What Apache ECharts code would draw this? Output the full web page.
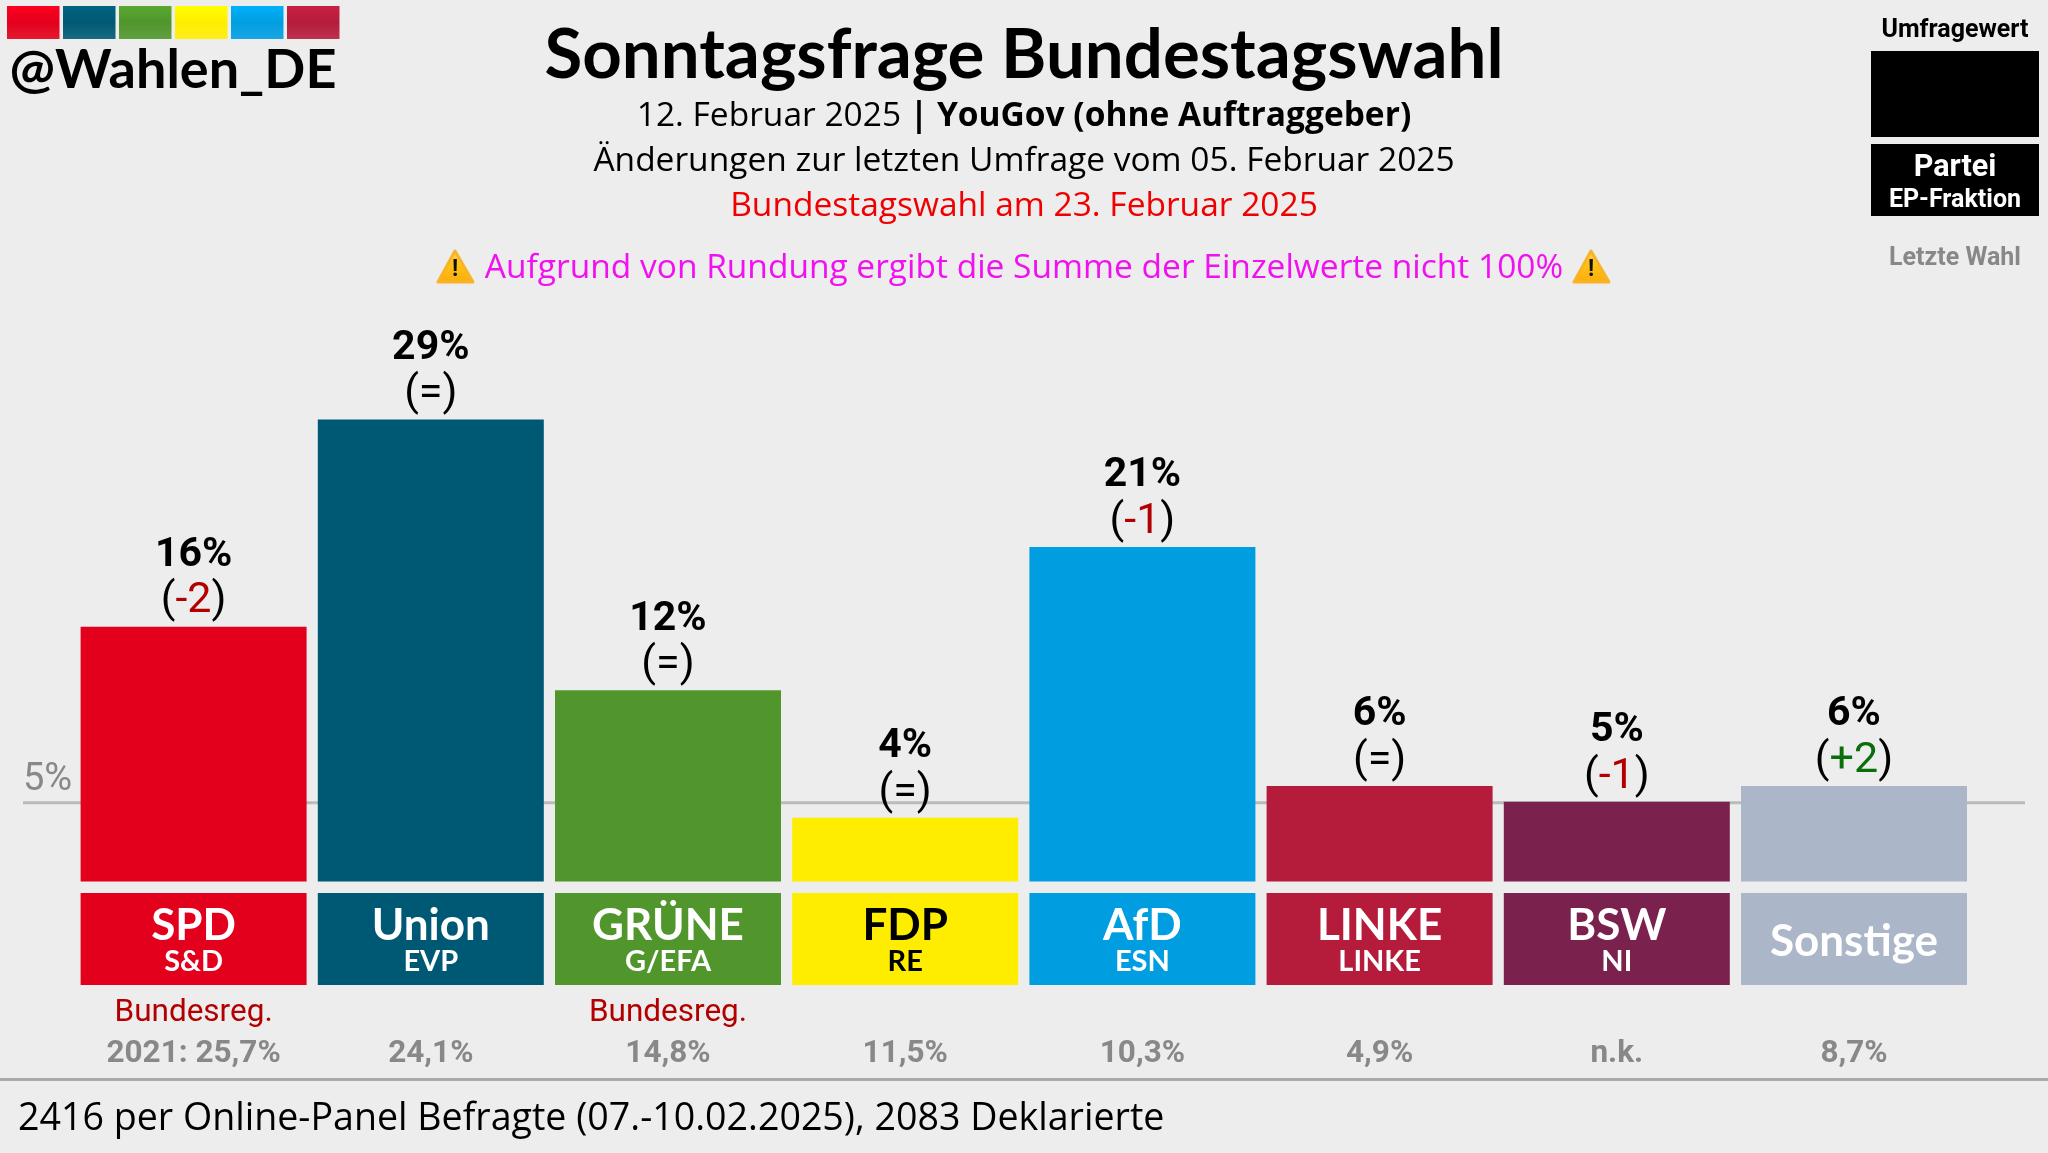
<!DOCTYPE html>
<html lang="de">
<head>
<meta charset="utf-8">
<title>Sonntagsfrage Bundestagswahl</title>
<style>
  html, body { margin: 0; height: 100%; background: #ededed; }
  #chart { width: 2048px; height: 1153px; }
</style>
<script src="https://cdn.jsdelivr.net/npm/echarts@6/dist/echarts.min.js"></script>
</head>
<body>
<div id="chart"></div>
<script>
(() => {
  const parties = ["SPD", "Union", "GRÜNE", "FDP", "AfD", "LINKE", "BSW", "Sonstige"];
  const factions = ["S&D", "EVP", "G/EFA", "RE", "ESN", "LINKE", "NI", ""];
  const pollValues = [16, 29, 12, 4, 21, 6, 5, 6];
  const changes = ["-2", "=", "=", "=", "-1", "=", "-1", "+2"];
  const lastElection = ["2021: 25,7%", "24,1%", "14,8%", "11,5%", "10,3%", "4,9%", "n.k.", "8,7%"];
  const governing = [true, false, true, false, false, false, false, false];
  const partyColors = ["#e3001c", "#005974", "#50962c", "#ffed00", "#009ee0", "#b51c3c", "#7a214e", "#abb6c8"];
  const logoColors = partyColors.slice(0, 6);
  const thresholdLine = [[0, 5], [1, 5]];

  const chart = echarts.init(document.getElementById("chart"), null, { renderer: "canvas" });

  const OPEN = '"Open Sans"';
  const ROBOTO = "Roboto";
  const BRAND = "Lato";

  function text(x, y, content, font, fill, rich) {
    return {
      type: "text",
      x,
      y,
      style: { text: content, font, fill, align: "center", verticalAlign: "middle", rich },
    };
  }

  function warningIcon(x) {
    return {
      type: "group",
      x,
      y: 249,
      children: [
        {
          type: "polygon",
          shape: { points: [[19, 2], [37, 33], [2, 33]] },
          style: {
            fill: new echarts.graphic.LinearGradient(0, 0, 0, 1, [
              { offset: 0, color: "#f8dca0" },
              { offset: 0.35, color: "#ffc61a" },
              { offset: 1, color: "#fbab0c" },
            ]),
            stroke: "#f8b424",
            lineWidth: 3,
            lineJoin: "round",
          },
        },
        text(19, 21, "!", `bold 23px ${ROBOTO}`, "#111"),
      ],
    };
  }

  const logoSquares = logoColors.map((color, i) => ({
    type: "rect",
    shape: { x: 7 + i * 56, y: 6, width: 52.5, height: 33 },
    style: {
      fill: new echarts.graphic.LinearGradient(0, 0, 0, 1, [
        { offset: 0, color: echarts.color.lift(color, -0.12) },
        { offset: 0.5, color },
        { offset: 1, color: echarts.color.lift(color, 0.1) },
      ]),
    },
  }));

  chart.setOption({
    animation: false,
    backgroundColor: "#ededed",
    title: {
      text: "Sonntagsfrage Bundestagswahl",
      left: "center",
      top: 16,
      textStyle: { fontFamily: BRAND, fontWeight: "bold", fontSize: 69, color: "#000" },
    },
    grid: [
      { left: 75, width: 1897.6, top: 324, height: 557.5 },
      { left: 23, width: 2002, top: 325, height: 557.5 },
      { left: 75, width: 1897.6, top: 893, height: 92 },
    ],
    xAxis: [
      { type: "category", gridIndex: 0, data: parties, show: false },
      { type: "value", gridIndex: 1, min: 0, max: 1, show: false },
      {
        type: "category",
        gridIndex: 2,
        data: parties,
        axisLine: { show: false },
        axisTick: { show: false },
        axisLabel: {
          interval: 0,
          margin: 8,
          formatter: (_value, i) =>
            `{gov|${governing[i] ? "Bundesreg." : " "}}\n{last|${lastElection[i]}}`,
          rich: {
            gov: { fontFamily: ROBOTO, fontSize: 31.5, lineHeight: 41, color: "#b20000" },
            last: { fontFamily: ROBOTO, fontWeight: "bold", fontSize: 31.5, lineHeight: 41, color: "#888888" },
          },
        },
      },
    ],
    yAxis: [
      { type: "value", gridIndex: 0, min: 0, max: 35, show: false },
      { type: "value", gridIndex: 1, min: 0, max: 35, show: false },
      { type: "value", gridIndex: 2, min: 0, max: 1, show: false },
    ],
    series: [
      {
        name: "5%-Hürde",
        type: "line",
        xAxisIndex: 1,
        yAxisIndex: 1,
        z: 1,
        silent: true,
        symbol: "circle",
        symbolSize: 0,
        lineStyle: { color: "#bbbbbb", width: 3 },
        data: thresholdLine.map((point, i) => ({
          value: point,
          label: {
            show: i === 0,
            formatter: "5%",
            position: "right",
            offset: [-5, -22],
            fontFamily: ROBOTO,
            fontSize: 38,
            color: "#888888",
          },
        })),
      },
      {
        name: "Umfragewert",
        type: "bar",
        xAxisIndex: 0,
        yAxisIndex: 0,
        z: 2,
        barWidth: 226,
        data: pollValues.map((value, i) => ({
          value,
          itemStyle: { color: partyColors[i] },
          label: {
            formatter: () => {
              const c = changes[i];
              const style = c === "=" ? "same" : c[0] === "+" ? "up" : "down";
              return `{val|${value}%}\n{par|(}{${style}|${c}}{par|)}`;
            },
          },
        })),
        label: {
          show: true,
          position: "top",
          distance: 2,
          rich: {
            val: { fontFamily: ROBOTO, fontWeight: "bold", fontSize: 41, lineHeight: 46, color: "#000" },
            par: { fontFamily: ROBOTO, fontSize: 43, lineHeight: 46, color: "#000" },
            same: { fontFamily: ROBOTO, fontSize: 43, lineHeight: 46, color: "#000" },
            up: { fontFamily: ROBOTO, fontSize: 43, lineHeight: 46, color: "#0a6e0a" },
            down: { fontFamily: ROBOTO, fontSize: 43, lineHeight: 46, color: "#b20000" },
          },
        },
      },
      {
        name: "Partei",
        type: "bar",
        xAxisIndex: 2,
        yAxisIndex: 2,
        barWidth: 226,
        data: parties.map((party, i) => ({
          value: 1,
          itemStyle: { color: partyColors[i] },
          label: {
            color: party === "FDP" ? "#000" : "#fff",
            formatter: factions[i] ? `{name|${party}}\n{frak|${factions[i]}}` : `{name|${party}}`,
            rich: {
              name: {
                fontFamily: BRAND,
                fontWeight: "bold",
                fontSize: 44,
                lineHeight: 40,
                color: party === "FDP" ? "#000" : "#fff",
              },
              frak: {
                fontFamily: BRAND,
                fontWeight: "bold",
                fontSize: 29,
                lineHeight: 32,
                color: party === "FDP" ? "#000" : "#fff",
              },
            },
          },
        })),
        label: { show: true, position: "inside", offset: [0, 2.5] },
      },
    ],
    graphic: [
      ...logoSquares,
      text(173, 71, "@Wahlen_DE", `bold 54px ${BRAND}`, "#000"),
      text(1024, 116, "{a|12. Februar 2025 }{b|| YouGov (ohne Auftraggeber)}", `33.5px ${OPEN}`, "#000", {
        a: { font: `33.5px ${OPEN}`, fill: "#000" },
        b: { font: `bold 33.5px ${OPEN}`, fill: "#000" },
      }),
      text(1024, 161.5, "Änderungen zur letzten Umfrage vom 05. Februar 2025", `33.5px ${OPEN}`, "#000"),
      text(1024, 206.5, "Bundestagswahl am 23. Februar 2025", `33.5px ${OPEN}`, "#f00000"),
      text(1024, 268.5, "Aufgrund von Rundung ergibt die Summe der Einzelwerte nicht 100%", `33.5px ${OPEN}`, "#f010f0"),
      warningIcon(436),
      warningIcon(1572),
      text(1955, 30.5, "Umfragewert", `bold 25px ${ROBOTO}`, "#000"),
      { type: "rect", shape: { x: 1871, y: 51, width: 168, height: 86 }, style: { fill: "#000" } },
      { type: "rect", shape: { x: 1871, y: 144, width: 168, height: 72 }, style: { fill: "#000" } },
      text(1955, 168, "Partei", `bold 30.5px ${ROBOTO}`, "#fff"),
      text(1955, 201, "EP-Fraktion", `bold 25px ${ROBOTO}`, "#fff"),
      text(1955, 259, "Letzte Wahl", `bold 25px ${ROBOTO}`, "#888888"),
      { type: "rect", shape: { x: 0, y: 1078, width: 2048, height: 3 }, style: { fill: "#aaaaaa" } },
      {
        type: "text",
        x: 18,
        y: 1119.5,
        style: {
          text: "2416 per Online-Panel Befragte (07.-10.02.2025), 2083 Deklarierte",
          font: `37.6px ${OPEN}`,
          fill: "#000",
          align: "left",
          verticalAlign: "middle",
        },
      },
    ],
  });
})();
</script>
</body>
</html>
